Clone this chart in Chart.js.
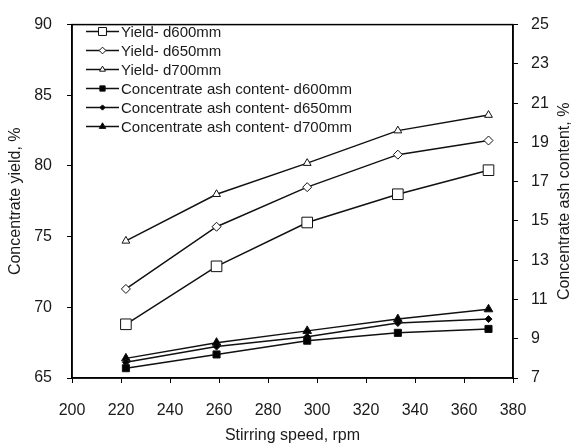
<!DOCTYPE html>
<html>
<head>
<meta charset="utf-8">
<script src="https://cdn.jsdelivr.net/npm/chart.js@4.4.1/dist/chart.umd.min.js"></script>
<style>
  body { margin: 0; background: #fff; }
  #wrap { width: 573px; height: 445px; }
</style>
</head>
<body>
<div id="wrap"><canvas id="chart" width="573" height="445"></canvas></div>
<script>
// Stirring speed, rpm
const speed = [222, 259, 296, 333, 370];

// Concentrate yield, %
const yield600 = [68.8, 72.9, 76.0, 78.0, 79.7];
const yield650 = [71.3, 75.7, 78.5, 80.8, 81.8];
const yield700 = [74.7, 78.0, 80.2, 82.5, 83.6];

// Concentrate ash content, %
const ash600 = [7.5, 8.2, 8.9, 9.3, 9.5];
const ash650 = [7.8, 8.6, 9.1, 9.8, 10.0];
const ash700 = [8.0, 8.8, 9.4, 10.0, 10.5];

const labels = [
  'Yield- d600mm',
  'Yield- d650mm',
  'Yield- d700mm',
  'Concentrate ash content- d600mm',
  'Concentrate ash content- d650mm',
  'Concentrate ash content- d700mm'
];

const rightTitle = 'Concentrate ash content, %';

const textColor = '#1a1a1a';
const fontFamily = 'Arial, "Liberation Sans", sans-serif';

function pts(values) {
  return values.map((v, i) => ({ x: speed[i], y: v }));
}

function serie(label, values, axis, style, radius, filled) {
  return {
    label: label,
    data: pts(values),
    yAxisID: axis,
    borderColor: '#111',
    borderWidth: 1.5,
    pointStyle: style,
    pointRadius: radius,
    pointHoverRadius: radius,
    pointBorderWidth: 1,
    pointBorderColor: '#111',
    pointBackgroundColor: filled ? '#000' : '#fff',
    tension: 0,
    fill: false
  };
}

// legend drawn inside the plot, top left
const innerLegend = {
  id: 'innerLegend',
  afterDraw(chart) {
    const ctx = chart.ctx;
    const x0 = 86, x1 = 119, yStart = 31.5, step = 19;
    ctx.save();
    chart.data.datasets.forEach((ds, i) => {
      const y = yStart + i * step;
      ctx.strokeStyle = '#111';
      ctx.lineWidth = 1.5;
      ctx.beginPath();
      ctx.moveTo(x0, y);
      ctx.lineTo(x1, y);
      ctx.stroke();
      ctx.fillStyle = ds.pointBackgroundColor;
      ctx.strokeStyle = '#111';
      ctx.lineWidth = 1;
      Chart.helpers.drawPoint(ctx, {
        pointStyle: ds.pointStyle,
        radius: ds.pointRadius * 0.75,
        borderWidth: 1
      }, (x0 + x1) / 2, y);
      ctx.fillStyle = textColor;
      ctx.font = '15px ' + fontFamily;
      ctx.textAlign = 'left';
      ctx.textBaseline = 'middle';
      ctx.fillText(ds.label, x1 + 2, y + 1);
    });
    ctx.restore();
  }
};

// frame round the plot area + right axis title read bottom to top
const frame = {
  id: 'frame',
  beforeDatasetsDraw(chart) {
    const a = chart.chartArea;
    const ctx = chart.ctx;
    ctx.save();
    ctx.strokeStyle = '#000';
    ctx.lineWidth = 1.5;
    ctx.strokeRect(a.left, a.top, a.right - a.left, a.bottom - a.top);

    ctx.translate(565, (a.top + a.bottom) / 2);
    ctx.rotate(-Math.PI / 2);
    ctx.fillStyle = textColor;
    ctx.font = '16px ' + fontFamily;
    ctx.textAlign = 'center';
    ctx.textBaseline = 'middle';
    ctx.fillText(rightTitle, 0, 0);
    ctx.restore();
  }
};

const axisLine = { display: true, color: '#000', width: 1.5 };
const tickMarks = { display: true, drawOnChartArea: false, drawTicks: true, tickLength: 5, color: '#000' };

new Chart(document.getElementById('chart'), {
  type: 'line',
  data: {
    datasets: [
      serie(labels[0], yield600, 'y', 'rect', 7.5, false),
      serie(labels[1], yield650, 'y', 'rectRot', 4.5, false),
      serie(labels[2], yield700, 'y', 'triangle', 4.5, false),
      serie(labels[3], ash600, 'y1', 'rect', 5, true),
      serie(labels[4], ash650, 'y1', 'rectRot', 3.5, true),
      serie(labels[5], ash700, 'y1', 'triangle', 5, true)
    ]
  },
  options: {
    responsive: false,
    animation: false,
    layout: { padding: { top: 15, left: 6, right: 0, bottom: 0 } },
    plugins: {
      legend: { display: false },
      tooltip: { enabled: false }
    },
    scales: {
      x: {
        type: 'linear',
        min: 200,
        max: 380,
        border: axisLine,
        grid: tickMarks,
        ticks: {
          stepSize: 20,
          padding: 18,
          color: textColor,
          font: { size: 16, family: fontFamily },
          maxRotation: 0
        },
        title: {
          display: true,
          text: 'Stirring speed, rpm',
          color: textColor,
          font: { size: 16, family: fontFamily },
          padding: 0
        },
        afterFit(scale) { scale.height = 67; }
      },
      y: {
        position: 'left',
        min: 65,
        max: 90,
        border: axisLine,
        grid: tickMarks,
        ticks: {
          stepSize: 5,
          padding: 15,
          color: textColor,
          font: { size: 16, family: fontFamily }
        },
        title: {
          display: true,
          text: 'Concentrate yield, %',
          color: textColor,
          font: { size: 16, family: fontFamily },
          padding: 0
        },
        afterFit(scale) { scale.width = 66; }
      },
      y1: {
        position: 'right',
        min: 7,
        max: 25,
        border: axisLine,
        grid: tickMarks,
        ticks: {
          stepSize: 2,
          padding: 13,
          color: textColor,
          font: { size: 16, family: fontFamily }
        },
        title: { display: false },
        afterFit(scale) { scale.width = 60; }
      }
    }
  },
  plugins: [frame, innerLegend]
});
</script>
</body>
</html>
